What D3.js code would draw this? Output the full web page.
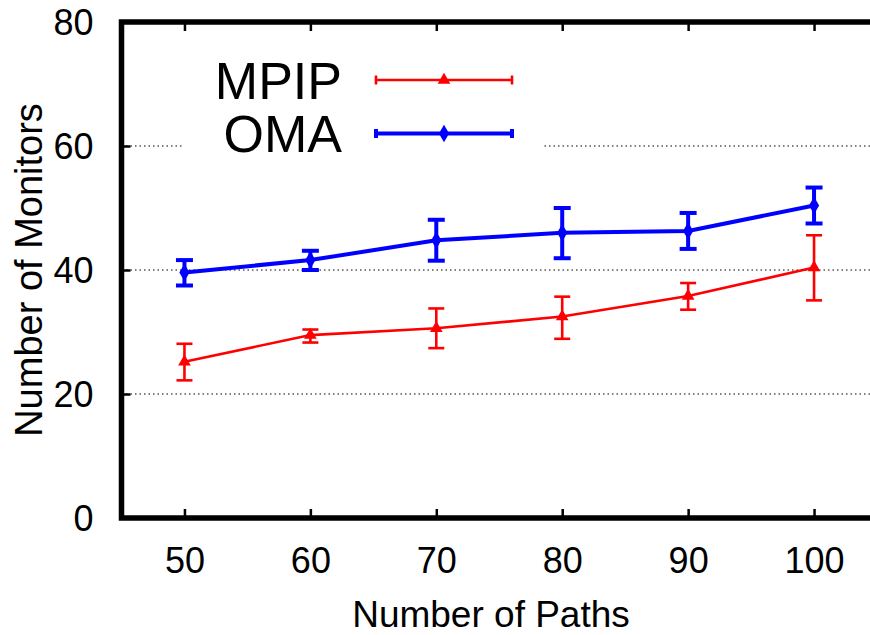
<!DOCTYPE html>
<html>
<head>
<meta charset="utf-8">
<script src="https://cdn.jsdelivr.net/npm/d3@7"></script>
<style>
  html, body { margin: 0; padding: 0; background: #fff; }
  svg { display: block; font-family: "Liberation Sans", Arial, Helvetica, sans-serif; }
</style>
</head>
<body>
<div id="chart"></div>
<script>
// Dati
const paths = [50, 60, 70, 80, 90, 100];
const mpipMean = [25.2, 29.5, 30.6, 32.5, 35.8, 40.4];
const mpipLow  = [22.2, 28.3, 27.4, 28.9, 33.6, 35.1];
const mpipHigh = [28.1, 30.4, 33.8, 35.7, 37.9, 45.6];
const omaMean  = [39.6, 41.6, 44.8, 46.0, 46.3, 50.4];
const omaLow   = [37.5, 40.0, 41.5, 41.9, 43.4, 47.5];
const omaHigh  = [41.6, 43.1, 48.1, 50.0, 49.2, 53.3];
const yTicks = [0, 20, 40, 60, 80];
const gridTicks = [20, 40, 60];

const series = [
  { name: "MPIP", color: "#ff0000", width: 2.6, cap: 16, marker: "triangle", mean: mpipMean, low: mpipLow, high: mpipHigh },
  { name: "OMA", color: "#0000ff", width: 4, cap: 17, marker: "diamond", mean: omaMean, low: omaLow, high: omaHigh },
];

const width = 870, height = 635;
const plotLeft = 121.5, plotTop = 22, plotBottom = 518, plotRight = 877;

const svg = d3.select("#chart").append("svg").attr("width", width).attr("height", height);

const x = d3.scaleLinear().domain([45, 105]).range([plotLeft, plotRight]);
const y = d3.scaleLinear().domain([0, 80]).range([plotBottom, plotTop]);

// Griglia tratteggiata
svg.append("g")
  .selectAll("line")
  .data(gridTicks)
  .join("line")
  .attr("x1", plotLeft).attr("x2", plotRight)
  .attr("y1", (d) => y(d)).attr("y2", (d) => y(d))
  .attr("stroke", "#000")
  .attr("stroke-width", 1)
  .attr("stroke-dasharray", "1.5,3");

// Assi con tacche interne
const axisLeft = d3.axisLeft(y).tickValues(yTicks).tickSize(-9).tickPadding(28);
const gy = svg.append("g").attr("transform", `translate(${plotLeft},0)`).call(axisLeft);
const axisBottom = d3.axisBottom(x).tickValues(paths).tickSize(-9).tickPadding(22);
const gx = svg.append("g").attr("transform", `translate(0,${plotBottom})`).call(axisBottom);
const axisTop = d3.axisTop(x).tickValues(paths).tickSize(-9).tickFormat("");
const gt = svg.append("g").attr("transform", `translate(0,${plotTop})`).call(axisTop);

[gy, gx, gt].forEach((g) => {
  g.select(".domain").remove();
  g.selectAll(".tick line").attr("stroke", "#000").attr("stroke-width", 2.5);
  g.selectAll(".tick text").attr("fill", "#000").attr("font-size", 36);
  g.attr("font-family", null).attr("font-size", null);
});
gy.selectAll(".tick text").attr("dy", "0.36em").attr("x", -28);
gx.selectAll(".tick text").attr("dy", 0).attr("y", 55);

// Legenda (sfondo bianco che copre la griglia)
svg.append("rect")
  .attr("x", 184).attr("y", 40).attr("width", 360).attr("height", 122)
  .attr("fill", "#fff");

const symbolFor = (m, size) => d3.symbol().type(m === "triangle" ? d3.symbolTriangle : d3.symbolDiamond).size(size);

function errorBar(g, s, px, pyLow, pyHigh) {
  g.append("line")
    .attr("x1", px).attr("x2", px).attr("y1", pyLow).attr("y2", pyHigh)
    .attr("stroke", s.color).attr("stroke-width", s.width);
  [pyLow, pyHigh].forEach((py) => {
    g.append("line")
      .attr("x1", px - s.cap / 2).attr("x2", px + s.cap / 2)
      .attr("y1", py).attr("y2", py)
      .attr("stroke", s.color).attr("stroke-width", s.width);
  });
}

series.forEach((s) => {
  const g = svg.append("g");
  const pts = paths.map((p, i) => ({ x: p, m: s.mean[i], lo: s.low[i], hi: s.high[i] }));
  g.append("path")
    .datum(pts)
    .attr("fill", "none")
    .attr("stroke", s.color)
    .attr("stroke-width", s.width)
    .attr("d", d3.line().x((d) => x(d.x)).y((d) => y(d.m)));
  pts.forEach((d) => errorBar(g, s, x(d.x), y(d.lo), y(d.hi)));
  g.selectAll("path.mk")
    .data(pts)
    .join("path")
    .attr("class", "mk")
    .attr("transform", (d) => `translate(${x(d.x)},${y(d.m)})`)
    .attr("d", symbolFor(s.marker, s.marker === "triangle" ? 70 : 90)())
    .attr("fill", s.color);
});

// Voci della legenda
series.forEach((s, i) => {
  const ly = 80 + i * 53.5;
  svg.append("text")
    .attr("x", 342).attr("y", ly).attr("dy", "0.36em")
    .attr("text-anchor", "end")
    .attr("font-size", 52)
    .text(s.name);
  const g = svg.append("g");
  g.append("line")
    .attr("x1", 376).attr("x2", 512).attr("y1", ly).attr("y2", ly)
    .attr("stroke", s.color).attr("stroke-width", s.width);
  [376, 512].forEach((lx) => {
    g.append("line")
      .attr("x1", lx).attr("x2", lx).attr("y1", ly - 4.5).attr("y2", ly + 4.5)
      .attr("stroke", s.color).attr("stroke-width", s.width);
  });
  g.append("path")
    .attr("transform", `translate(444,${ly})`)
    .attr("d", symbolFor(s.marker, s.marker === "triangle" ? 70 : 90)())
    .attr("fill", s.color);
});

// Cornice
svg.append("path")
  .attr("d", `M${plotRight},${plotTop}H${plotLeft}V${plotBottom}H${plotRight}`)
  .attr("fill", "none")
  .attr("stroke", "#000")
  .attr("stroke-width", 5.5);

// Titoli degli assi
svg.append("text")
  .attr("x", 491).attr("y", 627)
  .attr("text-anchor", "middle")
  .attr("font-size", 37)
  .text("Number of Paths");
svg.append("text")
  .attr("transform", "translate(42,270) rotate(-90)")
  .attr("text-anchor", "middle")
  .attr("font-size", 38)
  .text("Number of Monitors");
</script>
</body>
</html>
